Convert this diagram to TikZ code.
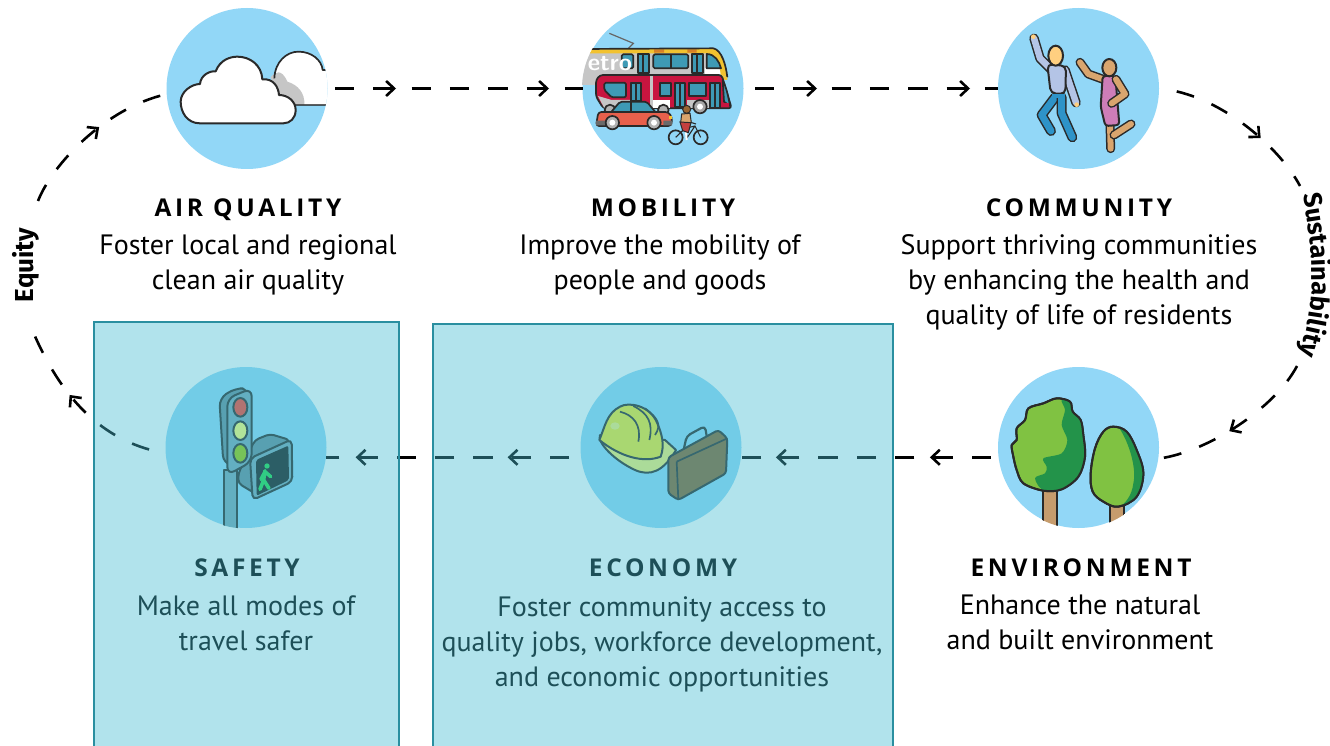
\documentclass[tikz,border=0pt]{standalone}
\usepackage{fontspec}
\setmainfont{PT Sans}
\newfontfamily\ttlfont[LetterSpace=15]{Open Sans}
\newfontfamily\sidefont{Fira Sans}
\usetikzlibrary{arrows.meta,decorations.markings,decorations.text}
\definecolor{inkc}{HTML}{2A2A2A}
\definecolor{skyc}{HTML}{92D7F7}
\definecolor{overc}{HTML}{47BED2}
\definecolor{edgec}{HTML}{2A8FA0}
\definecolor{winc}{HTML}{3E9AB5}
\definecolor{redc}{HTML}{C8153F}
\definecolor{yelc}{HTML}{F2C230}
\definecolor{grayc}{HTML}{C6C6C6}
\definecolor{carc}{HTML}{E8604C}
\definecolor{treea}{HTML}{80C242}
\definecolor{treeb}{HTML}{23934A}
\definecolor{trunkc}{HTML}{C69C6D}
\definecolor{helmc}{HTML}{F1EA2B}
\definecolor{brimc}{HTML}{F5F070}
\definecolor{casec}{HTML}{8A602B}
\definecolor{sigc}{HTML}{78A5B5}
\definecolor{lampa}{HTML}{FF3E2B}
\definecolor{lampb}{HTML}{FFFF70}
\definecolor{lampc}{HTML}{9BC800}
\definecolor{walkc}{HTML}{22D94D}
\definecolor{shirtc}{HTML}{B4C4E6}
\definecolor{jeanc}{HTML}{2E93C8}
\definecolor{skinc}{HTML}{FFCF80}
\definecolor{skinb}{HTML}{D9A56E}
\definecolor{dressc}{HTML}{CE7DB8}
\newcommand\rlimb[3]{\draw[inkc,line width=#1+3pt,line cap=round,line join=round] #3;\draw[#2,line width=#1,line cap=round,line join=round] #3;}
\tikzset{
  disc/.style={circle,fill=skyc,minimum size=161pt,inner sep=0pt,outer sep=0pt},
  ttl/.style={anchor=base,inner sep=0pt,font=\ttlfont\bfseries\fontsize{24.5}{28}\selectfont},
  body/.style={anchor=north,inner sep=0pt,align=center,font=\fontsize{28}{35}\selectfont},
  overlay box/.style={rectangle,fill=overc,fill opacity=.42,draw=edgec,draw opacity=1,line width=2pt,inner sep=0pt,anchor=north west},
  conn/.style={draw=black,line width=2.6pt,dash pattern=on 19.3pt off 19pt},
  arc/.style={draw=black,line width=2.6pt,dash pattern=on 18pt off 19pt},
  ink/.style={draw=inkc,line width=1.7pt,line join=round},
  tipmarks/.style={postaction={decorate,decoration={markings,#1}}},
}
\newcommand\tipa{\arrow[line width=2.6pt]{Straight Barb[length=8pt,width=15pt]}}
\begin{document}
\begin{tikzpicture}[x=1pt,y=-1pt]
\useasboundingbox (0,0) rectangle (1330,746);
\fill[white] (0,0) rectangle (1330,746);
% discs
\node[disc] (air) at (247,88.5) {};
\node[disc] (mob) at (663,88.5) {};
\node[disc] (com) at (1078.5,88.5) {};
\node[disc] (env) at (1078.5,447.5) {};
\node[disc] (eco) at (661,447.5) {};
\node[disc] (saf) at (246,447.5) {};
% connectors
\coordinate (eqtop) at (38,201);
\coordinate (eqbot) at (34,334);
\coordinate (sutop) at (1300,186);
\coordinate (subot) at (1297,366);
\draw[conn,shorten <=7.5pt,tipmarks={mark=at position 68.5pt with {\tipa},mark=at position 221.5pt with {\tipa}}] (air.east) -- (mob.west);
\draw[conn,shorten <=11.5pt,tipmarks={mark=at position 73.5pt with {\tipa},mark=at position 226.5pt with {\tipa}}] (mob.east) -- (com.west);
\draw[conn,shorten <=7.7pt,tipmarks={mark=at position 68.7pt with {\tipa},mark=at position 222.7pt with {\tipa}}] (env.187.5) -- (eco.-7.5);
\draw[conn,shorten <=12pt,tipmarks={mark=at position 73.5pt with {\tipa},mark=at position 225.5pt with {\tipa}}] (eco.187.5) -- (saf.-7.5);
\draw[arc,tipmarks={mark=at position 97pt with {\tipa}}] (eqtop) .. controls (52,165) and (105,108) .. (air.184);
\draw[arc,dash phase=20pt,tipmarks={mark=at position 115pt with {\tipa}}] (saf.184) .. controls (92,441) and (55,382) .. (eqbot);
\draw[arc,dash phase=19pt,tipmarks={mark=at position 115pt with {\tipa}}] (com.east) .. controls (1220,94) and (1280,148) .. (sutop);
\draw[arc,tipmarks={mark=at position 95pt with {\tipa}}] (subot) .. controls (1275,408) and (1208,452) .. (env.-8);
% side labels
\node[anchor=base,rotate=90,inner sep=0pt,font=\sidefont\bfseries\fontsize{26}{28}\selectfont] (equity) at (33,265) {Equity};
\path[decorate,decoration={text along path,text align=left,text={|\sidefont\bfseries\fontsize{25.5}{28}\selectfont|Sustainability}}]
  (1303,195) .. controls (1310,235) and (1322,300) .. (1296,362);
% --- air quality icon
\begin{scope}[shift={(150,0)},x=.33333pt,y=-.33333pt]
\clip (air.center) circle (80.5pt);
\fill[white] (375,240) .. controls (375,185) and (410,155) .. (445,155) .. controls (485,155) and (515,180) .. (518,210) -- (532,210) -- (532,315) -- (430,315) -- cycle;
\fill[grayc] (362,232) .. controls (375,215) and (395,205) .. (412,245) .. controls (445,255) and (465,280) .. (463,314) -- (430,314) -- (385,285) -- cycle;
\draw[ink] (373,235) .. controls (375,185) and (410,155) .. (445,155) .. controls (485,155) and (515,180) .. (518,210) -- (532,210);
\draw[draw=inkc,line width=1.4pt,draw opacity=.75] (432,315) -- (532,315);
\draw[ink,fill=white,line width=2pt] (150,370) .. controls (110,370) and (92,335) .. (92,305) .. controls (92,275) and (125,252) .. (150,252) .. controls (152,225) and (180,212) .. (197,214) .. controls (210,180) and (240,170) .. (262,170) .. controls (300,170) and (335,195) .. (337,238) .. controls (370,235) and (385,260) .. (387,285) .. controls (415,285) and (437,305) .. (437,330) .. controls (437,355) and (420,370) .. (400,370) -- cycle;
\end{scope}
% --- mobility icon
\begin{scope}[shift={(570,0)},x=.33333pt,y=-.33333pt]
\clip (mob.center) circle (81pt);
\draw[draw=gray!80!black,line width=1.2pt] (118,100) -- (190,130) -- (175,145);
\fill[grayc] (30,155) rectangle (445,255);
\fill[white] (405,205) rectangle (452,222);
\fill[yelc] (30,147) -- (430,145) .. controls (455,150) and (468,195) .. (472,232) -- (452,225) .. controls (450,190) and (432,160) .. (410,160) -- (30,160) -- cycle;
\fill[orange!70!gray] (252,148) rectangle (282,158) (352,148) rectangle (380,158);
\draw[ink] (30,147) -- (430,145) .. controls (455,150) and (468,195) .. (472,232);
\draw[ink,fill=winc,rounded corners=1.5pt] (155,163) rectangle (190,205);
\draw[ink,fill=winc] (203,161) rectangle (237,218);\draw[ink] (220,161) -- (220,218);
\draw[ink,fill=winc,rounded corners=1.5pt] (250,163) rectangle (355,205);\draw[ink] (302,163) -- (302,205);
\draw[ink,fill=winc] (365,161) rectangle (400,218);\draw[ink] (382,161) -- (382,218);
\draw[ink,fill=winc] (410,162) .. controls (435,162) and (448,185) .. (453,205) -- (410,205) -- cycle;
\node[inner sep=0pt,text=white,font=\sffamily\bfseries\fontsize{24}{24}\selectfont] (etro) at (120,192) {etro};
% red bus
\fill[yelc] (448,225) -- (472,232) -- (472,240) -- (452,238) -- cycle;
\draw[ink,fill=redc,rounded corners=3pt] (78,240) -- (90,225) -- (455,225) -- (485,325) -- (100,325) -- (78,290) -- cycle;
\fill[grayc] (84,288) -- (125,300) -- (180,300) -- (180,323) -- (102,323) -- cycle;
\fill[white] (248,300) -- (300,300) -- (300,323) -- (248,323) -- cycle;
\fill[grayc] (240,228) rectangle (250,323);
\fill[grayc] (350,300) -- (420,300) -- (420,323) -- (350,323) -- cycle;
\draw[ink,fill=winc,rounded corners=1.5pt] (103,248) -- (168,248) -- (168,292) -- (125,292) -- (103,270) -- cycle;
\draw[ink,fill=winc] (183,248) rectangle (213,302);\draw[ink] (198,248) -- (198,302);
\draw[ink,fill=winc] (270,248) rectangle (302,288);
\draw[ink,fill=winc] (315,248) rectangle (345,322);\draw[ink] (330,248) -- (330,322);
\draw[ink,fill=winc] (358,248) rectangle (407,288);
\draw[ink,fill=winc] (420,248) rectangle (450,325);\draw[ink] (435,248) -- (435,325);
\draw[ink,fill=winc] (458,240) .. controls (470,265) and (475,290) .. (480,318) -- (462,305) -- cycle;
\fill[redc] (462,308) rectangle (476,317);
\draw[ink,fill=gray!70!white] (390,320) circle (20);\fill[white] (390,320) circle (9);
% car
\draw[ink,fill=gray!60] (120,330) circle (16) (280,330) circle (16);
\draw[ink,fill=winc,rounded corners=2pt] (122,338) -- (150,305) -- (230,305) -- (258,338) -- cycle;
\draw[ink] (182,305) -- (182,338);
\draw[ink,fill=carc,rounded corners=3pt] (85,336) -- (295,336) -- (306,352) -- (304,378) -- (78,378) -- cycle;
\fill[inkc!70] (78,362) rectangle (105,376) (280,362) rectangle (306,376);
\fill[yelc] (296,348) rectangle (305,358);
\draw[ink,fill=gray!60] (127,368) circle (20) (252,368) circle (20);
\fill[white] (127,368) circle (9) (252,368) circle (9);
% bicycle
\draw[ink,fill=skyc] (317,412) circle (21) (392,412) circle (21);
\draw[draw=inkc,line width=1.1pt] (317,412) -- (345,385) -- (375,378) -- (392,412) (345,385) -- (352,412) -- (375,378) (365,368) -- (378,372);
\draw[draw=white,line width=2pt] (348,395) -- (350,420);
\draw[draw=inkc,fill=skinb,line width=1pt] (335,342) -- (360,340) -- (364,368) -- (332,368) -- cycle;
\draw[draw=inkc,fill=redc!60!brown,line width=1pt] (330,366) -- (363,368) -- (355,398) -- (338,392) -- cycle;
\draw[draw=inkc,fill=brown!80!black,line width=1pt] (350,328) circle (12);
\end{scope}
% --- community icon
\begin{scope}[shift={(990,0)},x=.33333pt,y=-.33333pt]
\clip (com.center) circle (81pt);
\rlimb{7pt}{jeanc}{(195,292) -- (155,345) -- (183,393)}
\rlimb{7pt}{jeanc}{(215,292) -- (215,340) -- (247,412)}
\rlimb{6.5pt}{shirtc}{(132,115) -- (150,175) -- (185,210)}
\rlimb{6.5pt}{shirtc}{(225,210) -- (258,308)}
\fill[skinc] (130,110) circle (7);
\fill[skinc] (260,314) circle (7);
\draw[ink,fill=shirtc,rounded corners=5pt,line width=2pt] (172,192) -- (228,198) -- (226,282) -- (182,280) -- cycle;
\fill[jeanc] (186,282) rectangle (224,295);
\draw[ink,fill=skinc,line width=2pt] (197,167) ellipse (22 and 30);
% woman
\rlimb{6pt}{skinb}{(360,375) -- (362,446)}
\rlimb{6pt}{skinb}{(372,405) -- (423,372)}
\rlimb{6pt}{skinb}{(270,187) -- (295,222) -- (345,240)}
\draw[ink,fill=dressc,rounded corners=3pt,line width=2pt] (338,228) -- (376,228) -- (388,375) -- (346,378) -- (332,320) -- cycle;
\rlimb{6pt}{skinb}{(378,238) -- (405,282) -- (365,310)}
\draw[ink,fill=skinb,line width=2pt] (358,203) ellipse (21 and 26);
\end{scope}
% --- environment icon
\begin{scope}[shift={(990,360)},x=.33333pt,y=-.33333pt]
\clip (env.center) circle (81pt);
\draw[ink,fill=trunkc,line width=2pt] (160,385) rectangle (200,510);
\draw[ink,fill=trunkc,line width=2pt] (360,430) rectangle (402,510);
\path[ink,fill=treea,line width=2pt,save path=\bigtree] plot[smooth cycle,tension=.55] coordinates {(200,115) (240,125) (248,155) (272,180) (280,225) (285,290) (265,350) (215,388) (160,392) (100,370) (80,330) (70,290) (65,255) (80,240) (80,205) (105,180) (115,145) (160,130)};
\begin{scope}
\clip[use path=\bigtree];
\fill[treeb] plot[smooth cycle,tension=.5] coordinates {(215,120) (250,110) (310,200) (310,400) (170,395) (135,355) (165,340) (170,320) (160,295) (215,280) (232,240) (215,195) (225,150)};
\end{scope}
\draw[ink,line width=2pt,use path=\bigtree];
\path[ink,fill=treea,line width=2pt,save path=\smalltree] plot[smooth cycle,tension=.6] coordinates {(370,200) (410,215) (440,270) (460,340) (440,410) (385,440) (340,425) (308,395) (302,340) (315,265) (340,215)};
\begin{scope}
\clip[use path=\smalltree];
\fill[treeb] (385,200) .. controls (420,250) and (440,330) .. (430,370) .. controls (425,410) and (405,430) .. (385,445) -- (480,445) -- (480,200) -- cycle;
\end{scope}
\draw[ink,line width=2pt,use path=\smalltree];
\end{scope}
% --- economy icon
\begin{scope}[shift={(570,360)},x=.33333pt,y=-.33333pt]
\clip (eco.center) circle (81pt);
\draw[ink,fill=brimc,line width=2pt] (90,225) .. controls (80,245) and (130,300) .. (195,330) .. controls (240,350) and (280,335) .. (318,270) -- (285,240) -- cycle;
\draw[ink,fill=helmc,line width=2pt] (88,240) .. controls (105,200) and (110,160) .. (150,140) .. controls (175,125) and (240,135) .. (262,190) .. controls (275,220) and (285,255) .. (272,290) .. controls (220,310) and (150,290) .. (88,240) -- cycle;
\draw[ink] (150,155) .. controls (190,165) and (215,195) .. (205,245);
\draw[ink] (190,138) .. controls (235,160) and (250,190) .. (238,240);
\draw[ink] (225,145) .. controls (265,175) and (275,195) .. (255,225);
\fill[white,opacity=.35] (135,198) ellipse (14 and 11);
\draw[ink,rounded corners=4pt,line width=2.2pt] (342,265) -- (350,228) -- (405,198) -- (410,228);
\draw[ink,fill=casec,rounded corners=3pt,line width=2pt] (295,292) -- (445,210) -- (472,235) -- (468,340) -- (325,420) -- (295,400) -- cycle;
\draw[ink] (320,305) -- (472,235);\draw[ink] (320,305) -- (325,420);
\end{scope}
% --- safety icon
\begin{scope}[shift={(155,360)},x=.33333pt,y=-.33333pt]
\clip (saf.center) circle (81pt);
\draw[ink,fill=sigc,line width=2pt] (208,330) rectangle (245,510);
\draw[ink,fill=sigc!85!black,line width=2pt,rounded corners=4pt] (250,340) -- (300,240) -- (345,222) -- (405,240) -- (300,400) -- (250,370) -- cycle;
\draw[ink,fill=sigc!85!black,rounded corners=8pt,line width=2pt] (193,115) -- (240,85) -- (280,85) -- (250,320) -- (205,310) -- cycle;
\draw[ink,fill=sigc,rounded corners=8pt,line width=2pt] (217,115) -- (290,85) -- (290,305) -- (217,345) -- cycle;
\draw[ink,fill=lampa,line width=2pt] (256,142) ellipse (21 and 28);
\draw[ink,fill=lampb,line width=2pt] (256,212) ellipse (21 and 28);
\draw[ink,fill=lampc,line width=2pt] (256,280) ellipse (21 and 28);
\draw[ink,fill=sigc,rounded corners=5pt,line width=2pt] (285,295) -- (410,238) -- (412,365) -- (293,420) -- cycle;
\fill[black!90,rounded corners=2pt] (303,300) -- (400,257) -- (402,360) -- (305,407) -- cycle;
\fill[walkc] (336,318) circle (8);
\draw[draw=walkc,line width=3.6pt,line cap=round,line join=round] (330,332) -- (326,360) -- (315,388) (326,360) -- (342,385) (330,335) -- (347,350) (330,335) -- (318,358);
\end{scope}
% --- texts
\node[ttl] (t1) at (248,217) {AIR QUALITY};
\node[body] (b1) at (248,234) {Foster local and regional\\clean air quality};
\node[ttl] (t2) at (663,217) {MOBILITY};
\node[body] (b2) at (660,234) {Improve the mobility of\\people and goods};
\node[ttl] (t3) at (1079,217) {COMMUNITY};
\node[body] (b3) at (1079,234) {Support thriving communities\\by enhancing the health and\\quality of life of residents};
\node[ttl] (t4) at (1081,576) {ENVIRONMENT};
\node[body] (b4) at (1080,595) {Enhance the natural\\and built environment};
\node[ttl] (t5) at (663,576) {ECONOMY};
\node[body] (b5) at (662,596) {Foster community access to\\quality jobs, workforce development,\\and economic opportunities};
\node[ttl] (t6) at (247,576) {SAFETY};
\node[body] (b6) at (246,596) {Make all modes of\\travel safer};
% overlay boxes
\node[overlay box,minimum width=305pt,minimum height=440pt] (leftbox) at (92.5,320.5) {};
\node[overlay box,minimum width=460pt,minimum height=440pt] (midbox) at (432,322.5) {};
\end{tikzpicture}
\end{document}
